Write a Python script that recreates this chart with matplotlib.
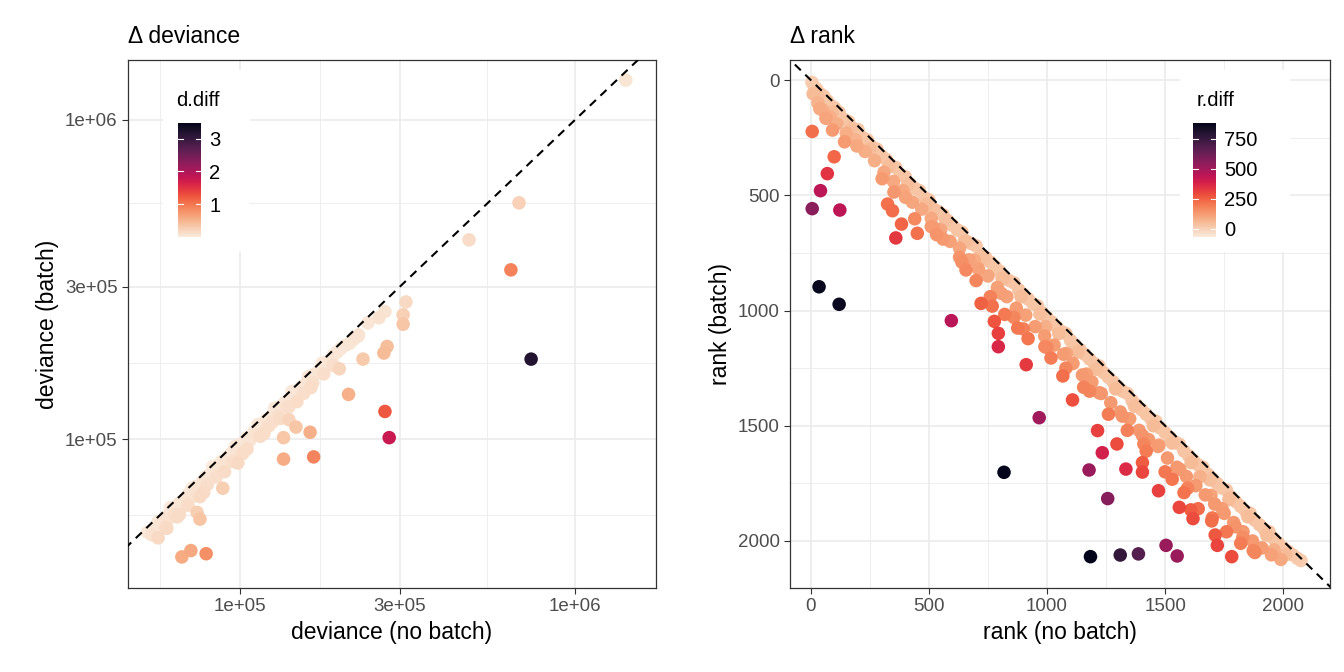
import numpy as np
import matplotlib
matplotlib.use("Agg")
import matplotlib.pyplot as plt
import seaborn as sns
from matplotlib.colors import Normalize

plt.rcParams['font.family'] = ['Liberation Sans', 'DejaVu Sans']

# ---- Left panel data (deviance, thousands) ----
dev_nobatch = [1419, 681, 483, 644, 740, 313, 307, 307, 271, 260, 241, 226, 275, 269, 233, 211, 271, 279,
               162, 147, 140, 135, 135, 166, 198, 98.6, 88.9, 76.0, 74.5, 60.5, 54.6, 67.1, 71.4, 79.3,
               53, 55, 57, 58, 60, 61, 63, 64, 66, 68, 70, 72, 74, 75, 77, 79, 80, 82, 84, 86, 88, 90, 92, 94,
               96, 98, 100, 103, 105, 107, 110, 112, 115, 118, 120, 122, 125, 128, 130, 133, 136, 138, 141,
               144, 147, 150, 153, 156, 159, 162, 165, 168, 172, 175, 178, 182, 186, 190, 195, 200, 205, 212,
               218, 225, 60, 70, 78, 85, 95, 105, 115, 125, 140, 155, 165, 178, 190, 62, 72, 83, 97, 113, 127,
               143, 160, 176, 57, 65, 66, 76, 90, 102, 118, 132, 148, 163]
dev_batch = [1334, 550, 421, 339, 178, 269, 245, 229, 251, 240, 231, 212, 195, 186, 178, 138, 122, 101,
             105, 109, 115, 101, 86.5, 87.9, 166, 84.1, 70.1, 56.1, 58.9, 52.5, 50.1, 42.7, 44.7, 43.7,
             51, 52, 55, 54, 57, 56, 60, 58, 63, 64, 67, 66, 71, 69, 73, 76, 72, 78, 80, 81, 85, 84, 88, 90,
             92, 91, 96, 98, 101, 99, 105, 103, 110, 112, 115, 110, 119, 122, 118, 127, 130, 126, 134,
             137, 140, 143, 146, 148, 150, 155, 158, 160, 163, 167, 170, 174, 176, 183, 187, 192, 196, 199,
             205, 210, 53, 62, 68, 76, 85, 93, 102, 113, 126, 139, 150, 160, 170, 61, 70, 82, 95, 111, 125,
             141, 157, 173, 49, 57, 58, 66, 79, 90, 104, 116, 131, 145]

# ---- Right panel data (ranks) ----
rank_nobatch = [6, 99, 70, 41, 6, 123, 35, 120, 595, 818, 967, 1184, 1310, 1387, 1504, 1551, 1178, 1257,
                1234, 1214, 1296, 1334, 1404, 1404, 1472, 1560, 1618, 1721, 1782, 1873, 1712, 1697, 1797,
                1829, 1961, 1609, 1530, 1562, 1741, 1773, 1694, 1647, 1595, 1404, 1410, 1474, 1319, 1108,
                1067, 1155, 1221, 1167, 912, 1017, 991, 920, 876, 794, 794, 777, 821, 768, 721, 657, 630,
                533, 510, 451, 440, 384, 360, 346, 325, 352, 401, 302, 806, 692, 994, 1082, 38, 64, 92, 143, 195,
                5, 15, 25, 40, 55, 70, 85, 100, 120, 140, 160, 180, 200, 220, 240, 260, 280, 300, 320, 340,
                360, 380, 400, 420, 440, 460, 480, 500, 520, 540, 560, 580, 600, 620, 640, 660, 680, 700,
                720, 740, 760, 780, 800, 820, 840, 860, 880, 900, 920, 940, 960, 980, 1000, 1020, 1040,
                1060, 1080, 1100, 1120, 1140, 1160, 1180, 1200, 1220, 1240, 1260, 1280, 1300, 1320, 1340,
                1360, 1380, 1400, 1420, 1440, 1460, 1480, 1500, 1520, 1540, 1560, 1580, 1600, 1620, 1640,
                1660, 1680, 1700, 1720, 1740, 1760, 1780, 1800, 1820, 1840, 1860, 1880, 1900, 1920, 1940,
                1960, 1980, 2000, 2020, 2040, 2060, 2075,
                10, 30, 50, 80, 110, 150, 190, 230, 270, 310, 350, 390, 430, 470, 510, 550, 590, 630, 670,
                710, 750, 790, 830, 870, 910, 950, 990, 1030, 1070, 1110, 1150, 1190, 1230, 1270, 1310,
                1350, 1390, 1430, 1470, 1510, 1550, 1590, 1630, 1670, 1710, 1750, 1790, 1830, 1870, 1910,
                1950, 1990,
                520, 560, 640, 700, 760, 860, 900, 1000, 1080, 1180, 1260, 1340, 1420, 1500, 1580, 1640,
                1700, 1760, 1820, 1880,
                30, 90, 170, 250, 330, 410, 490, 570, 650, 730, 810, 890, 970, 1050, 1130, 1210, 1290,
                1370, 1450, 1530, 1610, 1690, 1770, 1850, 1930, 2010]
rank_batch = [223, 333, 406, 480, 558, 564, 897, 973, 1044, 1702, 1465, 2068, 2061, 2056, 2019, 2065, 1692,
              1816, 1617, 1521, 1579, 1688, 1660, 1701, 1782, 1854, 1903, 2019, 2068, 2042, 1974, 1913,
              1938, 1984, 2039, 1865, 1732, 1689, 1860, 1816, 1802, 1721, 1771, 1542, 1579, 1584, 1458,
              1388, 1284, 1333, 1357, 1276, 1235, 1206, 1157, 1122, 1076, 1157, 1099, 1047, 1017, 981, 969,
              824, 769, 671, 636, 665, 602, 625, 685, 567, 538, 486, 509, 428, 925, 781, 1070, 1186, 124, 166, 217, 268, 286,
              10, 30, 40, 60, 70, 90, 110, 120, 140, 170, 180, 210, 215, 250, 260, 290, 300, 330, 345, 370,
              380, 410, 420, 450, 470, 480, 510, 520, 560, 570, 585, 610, 630, 650, 660, 700, 710, 720,
              760, 770, 790, 810, 830, 860, 870, 880, 910, 930, 950, 970, 980, 1010, 1030, 1050, 1070,
              1090, 1100, 1130, 1150, 1170, 1190, 1210, 1230, 1240, 1270, 1290, 1310, 1330, 1350, 1360,
              1390, 1410, 1430, 1450, 1470, 1480, 1510, 1530, 1550, 1570, 1580, 1610, 1630, 1650, 1670,
              1680, 1710, 1730, 1750, 1770, 1780, 1810, 1830, 1850, 1870, 1880, 1910, 1930, 1950, 1960,
              1990, 2010, 2030, 2045, 2060, 2075, 2085,
              60, 100, 130, 160, 190, 230, 260, 310, 350, 400, 440, 480, 530, 560, 600, 650, 700, 730, 780,
              820, 850, 900, 940, 990, 1020, 1070, 1110, 1150, 1190, 1230, 1280, 1310, 1360, 1400, 1440,
              1470, 1520, 1560, 1590, 1640, 1680, 1720, 1760, 1800, 1840, 1880, 1920, 1960, 2000, 2030,
              2060, 2080,
              640, 690, 790, 870, 940, 1030, 1080, 1160, 1250, 1350, 1450, 1520, 1610, 1700, 1790, 1860,
              1900, 1960, 2010, 2050,
              70, 140, 215, 300, 375, 455, 540, 610, 700, 775, 860, 940, 1015, 1100, 1180, 1255, 1340,
              1415, 1500, 1575, 1660, 1735, 1820, 1895, 1975, 2060]

dx = np.array(dev_nobatch) * 1000
dy = np.array(dev_batch) * 1000
ddiff = dx / dy - 1
rx = np.array(rank_nobatch)
ry = np.array(rank_batch)
rdiff = ry - rx

cmap = sns.color_palette("rocket_r", as_cmap=True)
fig = plt.figure(figsize=(13.44, 6.72), dpi=100)
axL = fig.add_axes([128/1344, 1-588/672, 528/1344, 528/672])
axR = fig.add_axes([790/1344, 1-588/672, 540/1344, 528/672])

def style(ax):
    ax.set_facecolor('white')
    ax.grid(True, which='major', color='#EBEBEB', lw=1.2, zorder=0)
    ax.grid(True, which='minor', color='#EBEBEB', lw=0.6, zorder=0)
    ax.set_axisbelow(True)
    for s in ax.spines.values():
        s.set_color('#333333'); s.set_linewidth(0.9)
    ax.tick_params(which='major', length=4, color='#333333', labelsize=13.5, labelcolor='#4D4D4D')
    ax.tick_params(which='minor', length=0)

# Left
normL = Normalize(0, 3.48)
order = np.argsort(ddiff)
axL.set_xscale('log'); axL.set_yscale('log')
axL.set_xlim(10**4.666, 10**6.242); axL.set_ylim(10**4.533, 10**6.188)
lim = np.array([10**4.5, 10**6.3])
axL.plot(lim, lim, ls=(0, (4, 3)), color='black', lw=1.5, zorder=3)
axL.scatter(dx[order], dy[order], c=ddiff[order], cmap=cmap, norm=normL, s=95, lw=0, zorder=2)
ticks = [1e5, 3e5, 1e6]
axL.set_xticks(ticks); axL.set_xticklabels(['1e+05', '3e+05', '1e+06'])
axL.set_yticks(ticks); axL.set_yticklabels(['1e+05', '3e+05', '1e+06'])
minors = [10**4.761, 10**5.239, 10**5.739]
axL.set_xticks(minors, minor=True); axL.set_yticks(minors, minor=True)
style(axL)
axL.set_xlabel('deviance (no batch)', fontsize=16.5)
axL.set_ylabel('deviance (batch)', fontsize=16.5)
axL.set_title('Δ deviance', fontsize=16.5, loc='left', pad=12)

# Right
normR = Normalize(-70, 880)
order = np.argsort(rdiff)
axR.set_xlim(-88, 2198); axR.set_ylim(2204, -87)
axR.plot([-200, 2400], [-200, 2400], ls=(0, (4, 3)), color='black', lw=1.5, zorder=3)
axR.scatter(rx[order], ry[order], c=rdiff[order], cmap=cmap, norm=normR, s=95, lw=0, zorder=2)
axR.set_xticks([0, 500, 1000, 1500, 2000]); axR.set_yticks([0, 500, 1000, 1500, 2000])
axR.set_xticks([250, 750, 1250, 1750], minor=True); axR.set_yticks([250, 750, 1250, 1750], minor=True)
style(axR)
axR.set_xlabel('rank (no batch)', fontsize=16.5)
axR.set_ylabel('rank (batch)', fontsize=16.5)
axR.set_title('Δ rank', fontsize=16.5, loc='left', pad=12)

def legend(box, bar, title, norm, ticks):
    bx = fig.add_axes([box[0]/1344, 1-box[3]/672, (box[2]-box[0])/1344, (box[3]-box[1])/672])
    bx.set_facecolor('white'); bx.set_xticks([]); bx.set_yticks([])
    for s in bx.spines.values(): s.set_visible(False)
    bx.text(0.15, 0.83, title, transform=bx.transAxes, fontsize=14.5, va='center', ha='left')
    cax = fig.add_axes([bar[0]/1344, 1-bar[3]/672, (bar[2]-bar[0])/1344, (bar[3]-bar[1])/672])
    grad = np.linspace(norm.vmin, norm.vmax, 256).reshape(-1, 1)
    cax.imshow(grad, aspect='auto', cmap=cmap, norm=norm, origin='lower',
               extent=[0, 1, norm.vmin, norm.vmax])
    cax.set_xticks([])
    cax.yaxis.tick_right()
    cax.set_yticks(ticks); cax.set_yticklabels([str(t) for t in ticks])
    cax.tick_params(axis='y', length=0, labelsize=14.5, pad=6)
    for t in ticks:
        cax.plot([0, 0.2], [t, t], color='white', lw=0.8)
        cax.plot([0.8, 1], [t, t], color='white', lw=0.8)
    cax.set_xlim(0, 1); cax.set_ylim(norm.vmin, norm.vmax)
    for s in cax.spines.values(): s.set_visible(False)

legend((163, 70, 250, 252), (178, 123, 201, 237), 'd.diff', normL, [1, 2, 3])
legend((1180, 70, 1290, 252), (1193, 123, 1216, 237), 'r.diff', normR, [0, 250, 500, 750])

fig.savefig('out.png', dpi=100, facecolor='white')
